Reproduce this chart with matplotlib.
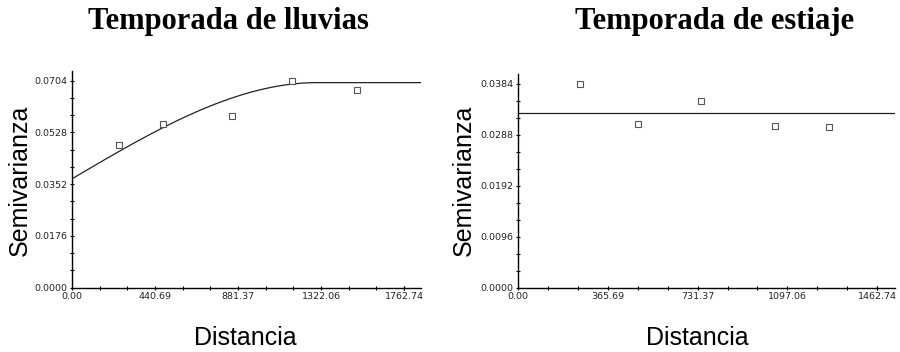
import numpy as np
import matplotlib
matplotlib.use("Agg")
import matplotlib.pyplot as plt
from matplotlib.ticker import FixedLocator, AutoMinorLocator

# Temporada de lluvias: semivariograma experimental
lluvias_dist = [250, 485, 850, 1170, 1513]
lluvias_gamma = [0.0485, 0.0556, 0.0583, 0.0704, 0.0671]
lluvias_xticks = [0.00, 440.69, 881.37, 1322.06, 1762.74]
lluvias_yticks = [0.0000, 0.0176, 0.0352, 0.0528, 0.0704]

# modelo esferico (pepita, meseta, alcance)
lluvias_nugget = 0.0370
lluvias_sill = 0.0697
lluvias_range = 1300.0

# Temporada de estiaje: semivariograma experimental
estiaje_dist = [252, 487, 743, 1047, 1268]
estiaje_gamma = [0.0384, 0.0308, 0.0352, 0.0305, 0.0303]
estiaje_xticks = [0.00, 365.69, 731.37, 1097.06, 1462.74]
estiaje_yticks = [0.0000, 0.0096, 0.0192, 0.0288, 0.0384]

# modelo de efecto pepita puro
estiaje_nugget = 0.0330

tick_font = ["Liberation Sans Narrow", "DejaVu Sans"]
label_font = ["Liberation Sans", "DejaVu Sans"]
title_font = ["Liberation Serif", "DejaVu Serif"]


def spherical(h, c0, sill, a):
    h = np.asarray(h, dtype=float)
    r = np.clip(h / a, 0, 1)
    return c0 + (sill - c0) * (1.5 * r - 0.5 * r ** 3)


def style_axes(ax, xticks, yticks, xmax, ymax):
    ax.set_xlim(0, xmax)
    ax.set_ylim(0, ymax)
    ax.spines["top"].set_visible(False)
    ax.spines["right"].set_visible(False)
    for s in ["left", "bottom"]:
        ax.spines[s].set_linewidth(1.0)
        ax.spines[s].set_color("black")
    ax.xaxis.set_major_locator(FixedLocator(xticks))
    ax.yaxis.set_major_locator(FixedLocator(yticks))
    ax.set_xticklabels([f"{v:.2f}" for v in xticks])
    ax.set_yticklabels([f"{v:.4f}" for v in yticks])
    ax.xaxis.set_minor_locator(AutoMinorLocator(3))
    ax.yaxis.set_minor_locator(AutoMinorLocator(3))
    ax.tick_params(which="both", direction="inout", length=3, width=0.8,
                   color="black", pad=2)
    for lab in ax.get_xticklabels() + ax.get_yticklabels():
        lab.set_fontfamily(tick_font)
        lab.set_fontsize(6.8)
        lab.set_color("#222222")


fig = plt.figure(figsize=(9, 3.52), dpi=100)

# panel izquierdo
ax1 = fig.add_axes([0.080, 0.183, 0.3874, 0.614])
h = np.linspace(0, 1851, 400)
ax1.plot(h, spherical(h, lluvias_nugget, lluvias_sill, lluvias_range),
         color="#222222", lw=0.9)
ax1.plot(lluvias_dist, lluvias_gamma, ls="none", marker="s", ms=4,
         mfc="white", mec="#555555", mew=0.8)
style_axes(ax1, lluvias_xticks, lluvias_yticks, 1851, 0.0735)

# panel derecho
ax2 = fig.add_axes([0.5758, 0.183, 0.4187, 0.607])
ax2.axhline(estiaje_nugget, color="#222222", lw=0.9)
ax2.plot(estiaje_dist, estiaje_gamma, ls="none", marker="s", ms=4,
         mfc="white", mec="#555555", mew=0.8)
style_axes(ax2, estiaje_xticks, estiaje_yticks, 1536, 0.0403)

# titulos y etiquetas
fig.text(228 / 900, 1 - 29 / 352, "Temporada de lluvias", ha="center",
         va="baseline", fontsize=22, fontweight="bold", family=title_font)
fig.text(715 / 900, 1 - 29 / 352, "Temporada de estiaje", ha="center",
         va="baseline", fontsize=22, fontweight="bold", family=title_font)

for xc in [20 / 900, 464 / 900]:
    fig.text(xc, 1 - 180 / 352, "Semivarianza", rotation=90, ha="center",
             va="center", fontsize=18, family=label_font)
for xc in [245 / 900, 697 / 900]:
    fig.text(xc, 1 - 338 / 352, "Distancia", ha="center", va="center",
             fontsize=18, family=label_font)

fig.savefig("out.png", dpi=100, facecolor="white")
